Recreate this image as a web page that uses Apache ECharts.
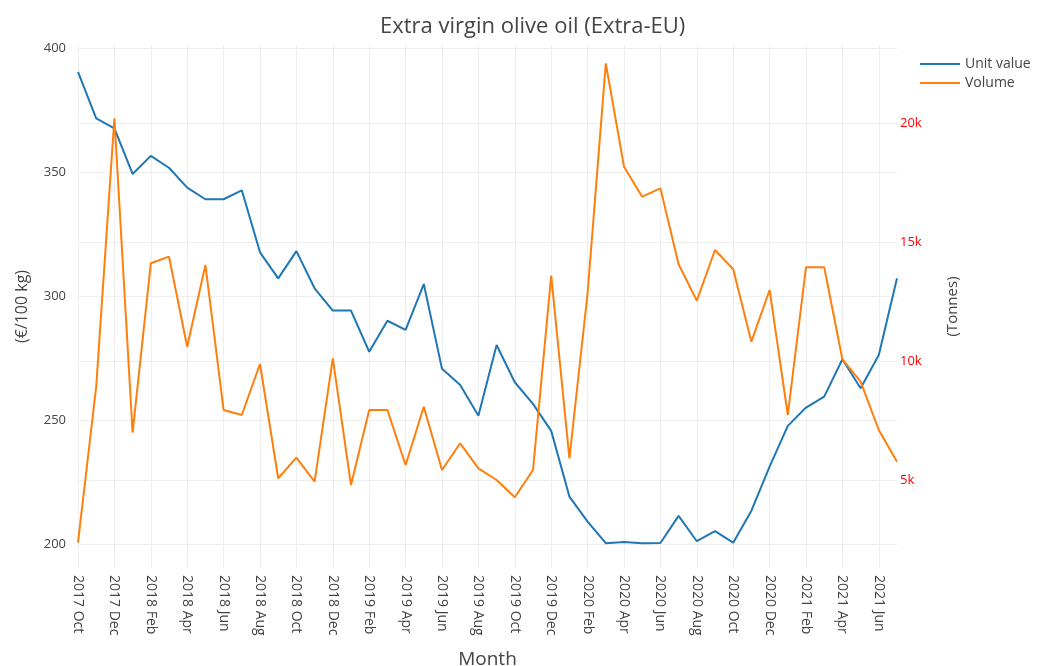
<!DOCTYPE html>
<html>
<head>
<meta charset="utf-8">
<script src="https://cdn.jsdelivr.net/npm/echarts@6/dist/echarts.min.js"></script>
<style>
html,body{margin:0;padding:0;background:#fff;}
#chart{width:1043px;height:666px;}
</style>
</head>
<body>
<div id="chart"></div>
<script>
const months = ["2017 Oct","2017 Nov","2017 Dec","2018 Jan","2018 Feb","2018 Mar","2018 Apr","2018 May","2018 Jun","2018 Jul","2018 Aug","2018 Sep","2018 Oct","2018 Nov","2018 Dec","2019 Jan","2019 Feb","2019 Mar","2019 Apr","2019 May","2019 Jun","2019 Jul","2019 Aug","2019 Sep","2019 Oct","2019 Nov","2019 Dec","2020 Jan","2020 Feb","2020 Mar","2020 Apr","2020 May","2020 Jun","2020 Jul","2020 Aug","2020 Sep","2020 Oct","2020 Nov","2020 Dec","2021 Jan","2021 Feb","2021 Mar","2021 Apr","2021 May","2021 Jun","2021 Jul"];
const unitValue = [390.4,371.6,367.6,349.2,356.5,351.7,343.7,339.0,339.0,342.6,317.6,307.1,318.1,303.1,294.1,294.1,277.5,290.0,286.3,304.8,270.6,264.1,251.7,280.2,265.2,256.5,245.6,219.1,209.0,200.3,200.8,200.3,200.4,211.3,201.1,205.2,200.5,213.4,231.2,247.6,255.0,259.4,274.5,262.8,276.2,307.1];
const volume = [2396,8940,20206,7012,14121,14398,10621,14050,7965,7755,9895,5099,5963,4956,10134,4817,7965,7965,5657,8103,5447,6567,5518,5027,4301,5447,13601,5938,12874,22513,18175,16916,17268,14079,12552,14679,13869,10831,13001,7755,13953,13953,10092,9153,7125,5795];

const chart = echarts.init(document.getElementById('chart'));
const font = '"Open Sans", sans-serif';
chart.setOption({
  animation: false,
  textStyle: {fontFamily: font},
  title: {
    text: 'Extra virgin olive oil (Extra-EU)',
    left: 375, top: 11,
    textStyle: {fontFamily: font, fontSize: 22, fontWeight: 'normal', color: '#444'}
  },
  legend: {
    orient: 'vertical', left: 915, top: 52, itemGap: 5,
    icon: 'rect', itemWidth: 40, itemHeight: 2,
    textStyle: {fontFamily: font, fontSize: 14, color: '#444', padding: [0,0,0,0]},
    data: ['Unit value', 'Volume']
  },
  grid: {left: 78, right: 146, top: 45, bottom: 98, outerBoundsMode: 'none', containLabel: false},
  xAxis: {
    type: 'category', data: months, boundaryGap: false,
    name: 'Month', nameLocation: 'middle', nameGap: 82,
    nameTextStyle: {fontFamily: font, fontSize: 19, color: '#444'},
    axisLine: {show: false}, axisTick: {show: false},
    axisLabel: {interval: 1, rotate: -90, margin: 7, fontFamily: font, fontSize: 14, color: '#444'},
    splitLine: {show: true, interval: 1, lineStyle: {color: '#eeeeee', width: 1}}
  },
  yAxis: [
    {
      type: 'value', min: 190.3, max: 401.2, minInterval: 50, maxInterval: 50,
      name: '(€/100 kg)', nameLocation: 'middle', nameGap: 48, nameRotate: 90,
      nameTextStyle: {fontFamily: font, fontSize: 16, color: '#444'},
      axisLine: {show: false}, axisTick: {show: false},
      axisLabel: {showMinLabel: false, showMaxLabel: false, margin: 12, fontFamily: font, fontSize: 13, color: '#444'},
      splitLine: {show: true, showMinLine: false, showMaxLine: false, lineStyle: {color: '#eeeeee', width: 1}}
    },
    {
      type: 'value', min: 1334, max: 23281, minInterval: 5000, maxInterval: 5000,
      position: 'right',
      name: '(Tonnes)', nameLocation: 'middle', nameGap: 48, nameRotate: 90,
      nameTextStyle: {fontFamily: font, fontSize: 15, color: '#444'},
      axisLine: {show: false}, axisTick: {show: false},
      axisLabel: {showMinLabel: false, showMaxLabel: false, margin: 3, fontFamily: font, fontSize: 13, color: '#ff0000',
        formatter: v => (v / 1000) + 'k'},
      splitLine: {show: true, showMinLine: false, showMaxLine: false, lineStyle: {color: '#eeeeee', width: 1}}
    }
  ],
  series: [
    {name: 'Unit value', type: 'line', data: unitValue, yAxisIndex: 0, showSymbol: false,
      lineStyle: {color: '#1f77b4', width: 2}, itemStyle: {color: '#1f77b4'}},
    {name: 'Volume', type: 'line', data: volume, yAxisIndex: 1, showSymbol: false,
      lineStyle: {color: '#ff7f0e', width: 2}, itemStyle: {color: '#ff7f0e'}}
  ]
});
</script>
</body>
</html>
